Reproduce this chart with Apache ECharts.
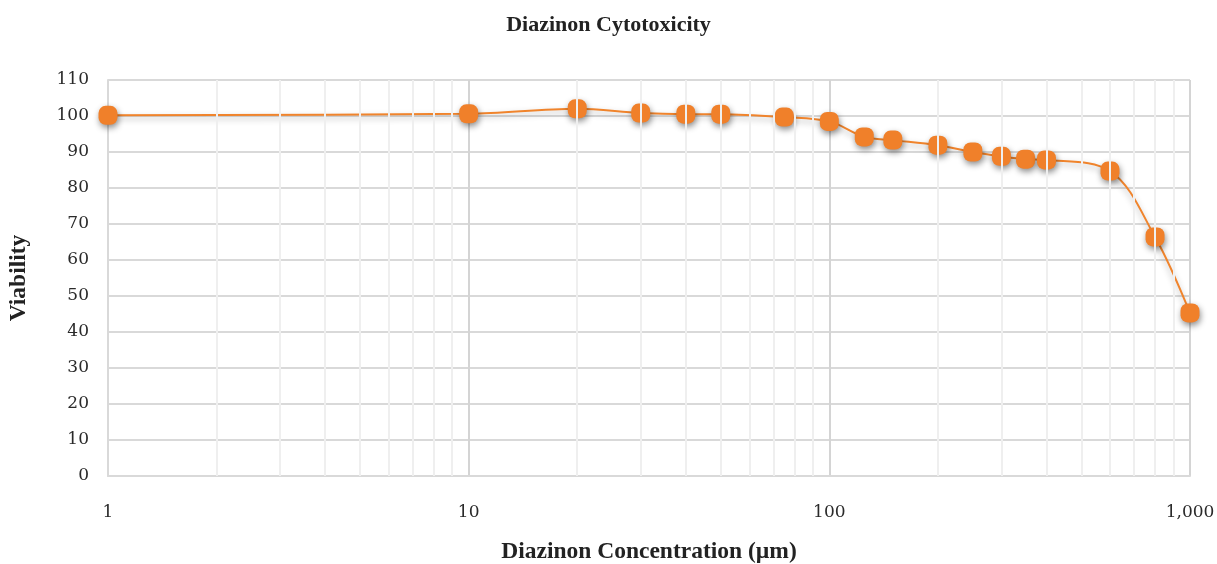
<!DOCTYPE html>
<html>
<head>
<meta charset="utf-8">
<script src="https://cdn.jsdelivr.net/npm/echarts@6/dist/echarts.min.js"></script>
<style>
html,body{margin:0;padding:0;background:#fff;}
#chart{width:1217px;height:564px;}
</style>
</head>
<body>
<div id="chart"></div>
<script>
const titleText = 'Diazinon Cytotoxicity';
const xAxisName = 'Diazinon Concentration (µm)';
const yAxisName = 'Viability';
const concentrations = [1, 10, 20, 30, 40, 50, 75, 100, 125, 150, 200, 250, 300, 350, 400, 600, 800, 1000];
const viability = [100.2, 100.6, 102.0, 100.8, 100.5, 100.5, 99.7, 98.5, 94.2, 93.3, 91.9, 90.0, 88.8, 88.0, 87.8, 84.7, 66.4, 45.3];
const minorGridValues = [2,3,4,5,6,7,8,9,20,30,40,50,60,70,80,90,200,300,400,500,600,700,800,900];

const titleFont = '"Liberation Serif", serif';
const tickFont = '"DejaVu Serif", serif';
const squircle = 'path://M0.38,0 H0.62 A0.38,0.38 0 0 1 1,0.38 V0.62 A0.38,0.38 0 0 1 0.62,1 H0.38 A0.38,0.38 0 0 1 0,0.62 V0.38 A0.38,0.38 0 0 1 0.38,0 Z';
const chart = echarts.init(document.getElementById('chart'));
chart.setOption({
  animation: false,
  title: {
    text: titleText, left: 'center', top: 9,
    textStyle: { fontFamily: titleFont, fontWeight: 'bold', fontSize: 22, color: '#222' }
  },
  grid: { left: 108, right: 27, top: 80, bottom: 88, containLabel: false, outerBoundsMode: 'none' },
  xAxis: {
    type: 'log', logBase: 10, min: 1, max: 1000,
    name: xAxisName, nameLocation: 'middle', nameGap: 64,
    nameTextStyle: { fontFamily: titleFont, fontWeight: 'bold', fontSize: 23.5, color: '#222' },
    axisLine: { lineStyle: { color: '#d9d9d9', width: 2 } },
    axisTick: { show: false },
    axisLabel: {
      fontFamily: tickFont, fontSize: 17, color: '#2a2a2a', margin: 28,
      formatter: v => v.toLocaleString('en-US')
    },
    splitLine: { show: true, lineStyle: { color: '#d4d4d4', width: 2 } }
  },
  yAxis: {
    type: 'value', min: 0, max: 110, interval: 10,
    name: yAxisName, nameLocation: 'middle', nameGap: 77, nameRotate: 90,
    nameTextStyle: { fontFamily: titleFont, fontWeight: 'bold', fontSize: 23.5, color: '#222' },
    axisLine: { show: true, lineStyle: { color: '#d9d9d9', width: 2 } },
    axisTick: { show: false },
    axisLabel: { fontFamily: tickFont, fontSize: 17, color: '#2a2a2a', margin: 19 },
    splitLine: { lineStyle: { color: '#d9d9d9', width: 2 } }
  },
  series: [
    {
      type: 'line', data: [], z: 1, silent: true,
      markLine: {
        silent: true, symbol: 'none', label: { show: false },
        lineStyle: { color: '#efefef', width: 2, type: 'solid' },
        data: minorGridValues.map(v => ({ xAxis: v }))
      }
    },
    {
      type: 'line', z: 3,
      data: concentrations.map((c, i) => [c, viability[i]]),
      smooth: 0.35,
      lineStyle: { color: '#f0842c', width: 2, shadowBlur: 6, shadowColor: 'rgba(0,0,0,0.3)', shadowOffsetY: 3 },
      symbol: squircle, symbolSize: 19,
      itemStyle: { color: '#f0802a', shadowBlur: 6, shadowColor: 'rgba(0,0,0,0.45)', shadowOffsetX: 1, shadowOffsetY: 3 }
    }
  ]
});
</script>
</body>
</html>
